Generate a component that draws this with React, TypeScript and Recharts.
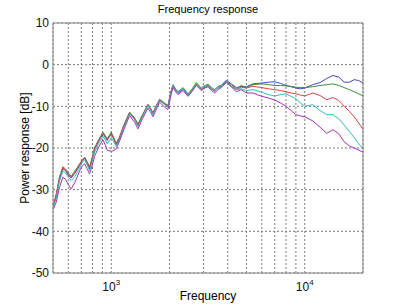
import React from "react";
import {
  LineChart,
  Line,
  XAxis,
  YAxis,
  CartesianGrid,
  ReferenceLine,
} from "recharts";

// frequency points (Hz)
const freqs = [
  500, 520, 540, 562, 580, 600, 621, 650, 686, 710,
  728, 750, 773, 800, 820, 860, 906, 930, 953, 1000,
  1030, 1061, 1100, 1149, 1200, 1244, 1320, 1374, 1450, 1548,
  1600, 1642, 1700, 1777, 1888, 1963, 2020, 2084, 2150, 2212,
  2349, 2493, 2600, 2750, 2920, 3050, 3163, 3300, 3425, 3560,
  3705, 3933, 4170, 4430, 4700, 4990, 5400, 6000, 6500, 7000,
  7500, 8000, 8500, 9000, 9500, 10000, 11000, 12000, 13000, 14000,
  15000, 16000, 17000, 18000, 19000, 20000,
];

// power response per measurement (dB)
const blue = [
  -34.2, -31.5, -27.5, -25, -25.4, -26.5, -27.2, -26, -24.2, -23,
  -22.4, -23.6, -25, -22.5, -20.3, -18.4, -16.6, -17.4, -18.2, -16.5,
  -17.8, -19.2, -17.8, -15.3, -13.2, -11.6, -13, -14.6, -12.3, -9.7,
  -10.8, -11.9, -10.3, -8.5, -9.5, -10.2, -7.3, -5, -6, -6.8,
  -5.8, -7.2, -6.2, -4.6, -5.9, -5.3, -5, -5.8, -6.3, -5.5,
  -5, -3.7, -4.6, -5.5, -5.2, -5.3, -4.6, -4.4, -4.2, -4.1,
  -4.5, -5, -5.3, -5.6, -5.8, -5.6, -4.8, -4.3, -3.3, -2.6,
  -3, -4.2, -4.2, -3.6, -3.8, -4.4,
];

const green = [
  -34, -31, -27, -24.5, -25, -26, -26.8, -25.5, -23.8, -22.8,
  -22.2, -23.2, -24.5, -22, -20, -18, -16.2, -17, -17.8, -16.2,
  -17.5, -18.8, -17.5, -15, -13, -11.4, -12.8, -14.2, -12, -9.5,
  -10.5, -11.5, -10, -8.3, -9.2, -9.8, -7, -4.8, -5.8, -6.5,
  -5.5, -7, -6, -4.3, -5.6, -5, -4.7, -5.5, -6, -5.2,
  -5, -4, -4.8, -5.8, -5, -5.5, -4.8, -4.6, -4.8, -5,
  -5, -5.1, -5.2, -5.4, -5.5, -5.5, -5.3, -5, -4.8, -4.6,
  -5, -5.5, -6, -6.5, -7, -7.5,
];

const red = [
  -34, -31.2, -27.2, -24.8, -25.2, -26.2, -27, -25.8, -24, -22.9,
  -22.3, -23.4, -24.8, -22.2, -20.2, -18.2, -16.5, -17.2, -18, -16.6,
  -17.8, -19, -17.7, -15.2, -13.1, -11.5, -12.9, -14.4, -12.2, -9.6,
  -10.7, -11.8, -10.2, -8.4, -9.4, -10, -7.2, -5.1, -6.1, -6.9,
  -5.9, -7.4, -6.3, -4.6, -5.9, -5.4, -5, -5.8, -6.4, -5.6,
  -5.3, -4.3, -5.2, -6, -5.4, -5.6, -5.2, -5.5, -5.8, -6,
  -6.2, -6.5, -6.8, -7, -7.3, -7.5, -6.8, -7.4, -8.4, -7.9,
  -8.6, -10, -11.2, -12.5, -14, -15.5,
];

const cyan = [
  -34.5, -32, -28, -25.5, -26, -27, -27.8, -26.8, -24.8, -23.4,
  -22.8, -24, -25.5, -23, -21, -19, -17.2, -18, -19, -17.5,
  -18.5, -19.6, -18.2, -15.6, -13.5, -11.8, -13.2, -14.8, -12.5, -9.8,
  -10.9, -12, -10.4, -8.6, -9.6, -10.2, -7.4, -5, -6.1, -6.8,
  -5.8, -7.3, -6.2, -4.5, -5.8, -5.2, -5, -5.9, -6.4, -5.6,
  -5.2, -4.2, -5.3, -6, -5.8, -6.2, -6, -6.6, -7.2, -7.5,
  -7.2, -7, -7.6, -8.2, -9.2, -10, -9.6, -11, -12, -12,
  -13, -14.5, -16, -17.5, -19, -20.2,
];

const magenta = [
  -34.8, -33, -29.5, -27, -27.5, -28.8, -29.8, -28.2, -25.5, -24.2,
  -23.8, -25, -26.2, -24, -22, -19.8, -18, -19.2, -20.5, -20.8,
  -20.6, -20.2, -18.5, -16.2, -14, -12.2, -13.8, -15.4, -13, -10.4,
  -11.5, -12.5, -11, -9, -10.2, -10.8, -8, -5.4, -6.5, -7.2,
  -6.2, -7.6, -6.6, -5, -6.2, -5.6, -5.3, -6.2, -6.8, -6,
  -5.5, -4.2, -5.3, -6.5, -6, -6.8, -6.8, -7.6, -8, -8.5,
  -9.2, -10, -11, -12, -12.3, -12.5, -13.5, -15, -16.5, -15.6,
  -16.6, -18.5, -19.5, -20, -20.5, -21,
];

const xGridTicks = [600, 700, 800, 900, 1000, 2000, 3000, 4000, 5000, 6000, 7000, 8000, 9000, 10000];
const yTicks = [-50, -40, -30, -20, -10, 0, 10];
const decadeLabels: Record<number, string> = { 1000: "3", 10000: "4" };

const series = [
  { key: "blue", color: "#4646c4" },
  { key: "green", color: "#3a8f3a" },
  { key: "red", color: "#d24848" },
  { key: "cyan", color: "#30bcbc" },
  { key: "magenta", color: "#a634b4" },
];

const data = freqs.map((f, i) => ({
  f,
  blue: blue[i],
  green: green[i],
  red: red[i],
  cyan: cyan[i],
  magenta: magenta[i],
}));

const FONT = '"Liberation Sans", Arial, sans-serif';

const DecadeTick = (props: any) => {
  const { x, y, payload } = props;
  const exp = decadeLabels[payload.value];
  if (!exp) return null;
  return (
    <text x={x} y={y + 16} textAnchor="middle" fontSize={12} fontFamily={FONT} fill="#111">
      10
      <tspan dy={-6} fontSize={8}>
        {exp}
      </tspan>
    </text>
  );
};

export default function App() {
  return (
    <div
      style={{
        position: "absolute",
        left: 0,
        top: 0,
        width: 400,
        height: 306,
        background: "#fff",
        fontFamily: FONT,
      }}
    >
      <LineChart
        width={400}
        height={306}
        data={data}
        margin={{ top: 23, right: 37, bottom: 13, left: 8 }}
      >
        <CartesianGrid stroke="#7a7a7a" strokeDasharray="2 2" />
        <XAxis
          dataKey="f"
          type="number"
          scale="log"
          domain={[500, 20000]}
          allowDataOverflow
          ticks={xGridTicks}
          interval={0}
          tick={<DecadeTick />}
          tickLine={false}
          tickSize={0}
          height={20}
          axisLine={{ stroke: "#888" }}
        />
        <YAxis
          type="number"
          domain={[-50, 10]}
          ticks={yTicks}
          interval={0}
          width={45}
          tickLine={false}
          tickSize={0}
          tickMargin={4}
          axisLine={{ stroke: "#888" }}
          tick={{ fontSize: 12, fill: "#111", fontFamily: FONT }}
        />
        <ReferenceLine y={10} stroke="#888" />
        <ReferenceLine x={20000} stroke="#888" />
        {series.map((s) => (
          <Line
            key={s.key}
            dataKey={s.key}
            stroke={s.color}
            strokeWidth={1}
            dot={false}
            isAnimationActive={false}
          />
        ))}
      </LineChart>
      <div
        style={{
          position: "absolute",
          top: 3,
          left: 53,
          width: 310,
          textAlign: "center",
          fontSize: 11,
        }}
      >
        Frequency response
      </div>
      <div
        style={{
          position: "absolute",
          top: 289,
          left: 53,
          width: 310,
          textAlign: "center",
          fontSize: 12,
        }}
      >
        Frequency
      </div>
      <div
        style={{
          position: "absolute",
          left: 25,
          top: 148,
          fontSize: 12,
          whiteSpace: "nowrap",
          transform: "translate(-50%, -50%) rotate(-90deg)",
        }}
      >
        Power response [dB]
      </div>
    </div>
  );
}
